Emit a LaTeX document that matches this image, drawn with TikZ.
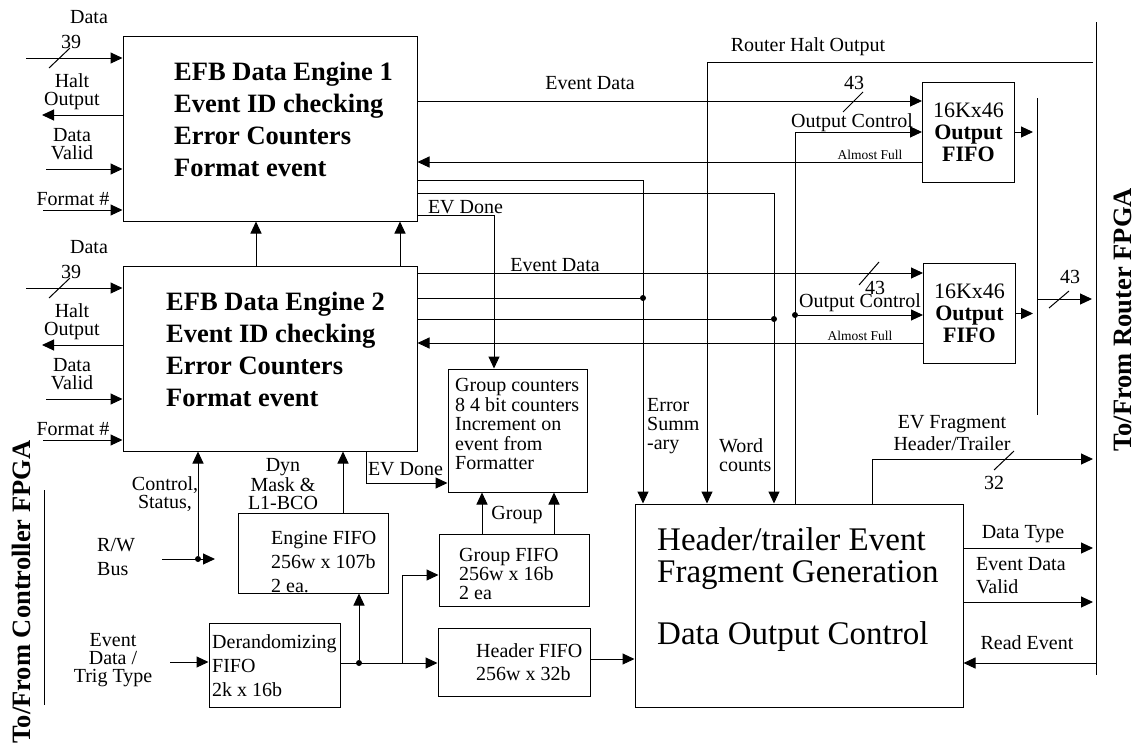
\documentclass[tikz,border=0pt]{standalone}
\usepackage{fontspec}
\setmainfont{Liberation Serif}
\usetikzlibrary{arrows.meta,calc,positioning}
\tikzset{
  wire/.style={line width=1pt},
  arr/.style={wire,-{Triangle[length=12pt,width=11pt]}},
  box/.style={draw,line width=1pt,inner sep=0pt},
  junction/.style={circle,fill,inner sep=0pt,minimum size=6pt},
  lbl/.style={inner sep=0pt,align=center,font=\fontsize{20}{18}\selectfont},
  txt/.style={inner sep=0pt,align=left,font=\fontsize{20}{24}\selectfont},
  tiny/.style={inner sep=0pt,font=\fontsize{13.5}{15}\selectfont},
  engtxt/.style={inner sep=0pt,align=left,font=\fontsize{26.5}{32}\selectfont\bfseries},
  hdrtxt/.style={inner sep=0pt,align=left,font=\fontsize{33}{32}\selectfont},
  fifotxt/.style={box,align=center,minimum width=92pt,minimum height=100pt,
    font=\fontsize{22}{22}\selectfont},
  sidetxt/.style={inner sep=0pt,rotate=90,font=\fontsize{26.5}{30}\selectfont\bfseries}
}
\begin{document}
\begin{tikzpicture}[x=1pt,y=-1pt]
    \useasboundingbox (0,0) rectangle (1137,745);
    % blocks
    \node[box,minimum width=294pt,minimum height=185pt] (eng1) at (270,128.5) {};
    \node[box,minimum width=294pt,minimum height=185pt] (eng2) at (270,358.5) {};
    \node[fifotxt] (ofifo1) at (968.5,132) {16Kx46\\\textbf{Output}\\\textbf{FIFO}};
    \node[fifotxt] (ofifo2) at (969.5,313.5) {16Kx46\\\textbf{Output}\\\textbf{FIFO}};
    \node[box,minimum width=139pt,minimum height=123pt] (gcnt) at (517.5,430.5) {};
    \node[box,minimum width=150pt,minimum height=80pt] (efifo) at (313,553) {};
    \node[box,minimum width=131pt,minimum height=84pt] (dfifo) at (274.5,665) {};
    \node[box,minimum width=150pt,minimum height=72pt] (gfifo) at (514,570) {};
    \node[box,minimum width=152pt,minimum height=68pt] (hfifo) at (514,662) {};
    \node[box,minimum width=328pt,minimum height=203pt] (hdr) at (799,605.5) {};
    % texts in the blocks
    \node[engtxt,anchor=west] (eng1txt) at (174,119) {EFB Data Engine 1\\Event ID checking\\Error Counters\\Format event};
    \node[engtxt,anchor=west] (eng2txt) at (166,349) {EFB Data Engine 2\\Event ID checking\\Error Counters\\Format event};
    \node[lbl,align=left,anchor=west,font=\fontsize{20}{19.5}\selectfont] (gcnttxt) at (455,424)
        {Group counters\\8 4 bit counters\\Increment on\\event from\\Formatter};
    \node[txt,anchor=west] (efifotxt) at (271,562) {Engine FIFO\\256w x 107b\\2 ea.};
    \node[txt,anchor=west] (dfifotxt) at (212,666) {Derandomizing\\FIFO\\2k x 16b};
    \node[lbl,align=left,anchor=west,font=\fontsize{20}{19}\selectfont] (gfifotxt) at (459,574) {Group FIFO\\256w x 16b\\2 ea};
    \node[txt,anchor=west,font=\fontsize{20}{23}\selectfont] (hfifotxt) at (476,662.5) {Header FIFO\\256w x 32b};
    \node[hdrtxt,anchor=west] (hdrtxt1) at (657,559) {Header/trailer Event\\Fragment Generation};
    \node[hdrtxt,anchor=west] (hdrtxt2) at (657,637) {Data Output Control};

    % inputs of the two engines
    \foreach \e/\dy in {eng1/0,eng2/230}{
        \node[lbl] (\e-data) at (89,17+\dy) {Data};
        \coordinate (\e-din) at (26,58+\dy);
        \draw[arr] (\e-din) -- (\e.west |- \e-din);
        \draw[wire] (49,68+\dy) -- (70,48+\dy);
        \node[lbl] (\e-w) at (71,42+\dy) {39};
        \node[lbl] (\e-halt) at (72,91.5+\dy) {Halt\\Output};
        \coordinate (\e-hout) at (42,115+\dy);
        \draw[arr] (\e.west |- \e-hout) -- (\e-hout);
        \node[lbl] (\e-valid) at (72,144+\dy) {Data\\Valid};
        \coordinate (\e-vin) at (46,169+\dy);
        \draw[arr] (\e-vin) -- (\e.west |- \e-vin);
        \node[lbl] (\e-fmt) at (73,199+\dy) {Format \#};
        \coordinate (\e-fin) at (43,210+\dy);
        \draw[arr] (\e-fin) -- (\e.west |- \e-fin);
    }
    \draw[arr] (eng2.north -| 256,0) -- (eng1.south -| 256,0);
    \draw[arr] (eng2.north -| 400,0) -- (eng1.south -| 400,0);

    % controller side
    \coordinate (lbtop) at (44,490);
    \coordinate (lbbot) at (44,705);
    \draw[wire] (lbtop) -- (lbbot);
    \node[sidetxt] (ctrlfpga) at (21,592) {To/From Controller FPGA};
    \node[junction] (rwj) at (198,559) {};
    \coordinate (rwin) at (162,559);
    \coordinate (rwend) at (215,559);
    \draw[arr] (rwin) -- (rwend);
    \draw[arr] (rwj) -- (eng2.south -| rwj);
    \node[lbl] (ctl) at (165,494) {Control,\\Status,};
    \node[txt,anchor=west] (rw) at (97,557) {R/W\\Bus};
    \node[lbl] (dyn) at (283,484) {Dyn\\Mask \&\\L1-BCO};
    \draw[arr] (efifo.north -| 343,0) -- (eng2.south -| 343,0);
    \draw[arr] (eng2.south -| 366,0) |- (gcnt.west |- 0,483);
    \node[lbl] (evd2) at (405.5,469) {EV Done};
    \draw[arr] (eng1.east |- 0,215) -| (gcnt.north -| 494,0);
    \node[lbl] (evd1) at (465.5,207) {EV Done};
    \draw[arr] (gfifo.north -| 482,0) -- (gcnt.south -| 482,0);
    \draw[arr] (gfifo.north -| 554,0) -- (gcnt.south -| 554,0);
    \node[lbl] (grp) at (517,515) {Group};

    % derandomizer fan-out
    \coordinate (evin) at (170,662);
    \draw[arr] (evin) -- (dfifo.west |- evin);
    \node[lbl] (evtxt) at (113,660) {Event\\Data /\\Trig Type};
    \node[junction] (dj1) at (359,663) {};
    \coordinate (dj2) at (402,663);
    \draw[arr] (dfifo.east |- dj1) -- (hfifo.west |- dj1);
    \draw[arr] (dj1) -- (efifo.south -| dj1);
    \draw[arr] (dj2) |- (gfifo.west |- 0,575);
    \draw[arr] (hfifo.east |- 0,659) -- (hdr.west |- 0,659);

    % engine 1 outputs
    \draw[arr] (eng1.east |- 0,101) -- (ofifo1.west |- 0,101);
    \node[lbl] (ed1) at (590,83) {Event Data};
    \draw[wire] (843,112) -- (863,92);
    \node[lbl] (w43a) at (854,83) {43};
    \draw[arr] (hdr.north -| 795,0) |- (ofifo1.west |- 0,132);
    \node[lbl] (oc1) at (852,123) {Output Control};
    \draw[arr] (ofifo1.west |- 0,162) -- (eng1.east |- 0,162);
    \node[tiny] (af1) at (870,155) {Almost Full};
    \draw[arr] (eng1.east |- 0,180) -| (hdr.north -| 643,0);
    \draw[arr] (eng1.east |- 0,193) -| (hdr.north -| 774,0);
    \coordinate (rhalt) at (1093,62);
    \draw[arr] (rhalt) -| (hdr.north -| 707,0);
    \node[lbl] (rh) at (808,47) {Router Halt Output};

    % engine 2 outputs
    \draw[arr] (eng2.east |- 0,273) -- (ofifo2.west |- 0,273);
    \node[lbl] (ed2) at (555,265) {Event Data};
    \draw[wire] (859,285) -- (879,262);
    \node[lbl] (w43b) at (875,288) {43};
    \node[junction] (esj) at (643,298) {};
    \draw[wire] (eng2.east |- esj) -- (esj);
    \node[junction] (wcj) at (774,319) {};
    \draw[wire] (eng2.east |- wcj) -- (wcj);
    \node[junction] (ocj) at (795,315) {};
    \draw[arr] (ocj) -- (ofifo2.west |- ocj);
    \node[lbl] (oc2) at (860,303) {Output Control};
    \draw[arr] (ofifo2.west |- 0,343) -- (eng2.east |- 0,343);
    \node[tiny] (af2) at (860,336) {Almost Full};
    \node[lbl,align=left,anchor=west,font=\fontsize{20}{19}\selectfont] (esum) at (647,426) {Error\\Summ\\-ary};
    \node[lbl,align=left,anchor=west,font=\fontsize{20}{19}\selectfont] (wcnt) at (719,455.5) {Word\\counts};

    % router side
    \coordinate (bar1) at (1037,98);
    \coordinate (bar2) at (1037,415);
    \draw[wire] (bar1) -- (bar2);
    \draw[arr,shorten >=4pt] (ofifo1.east) -- (ofifo1.east -| bar1);
    \draw[arr,shorten >=4pt] (ofifo2.east) -- (ofifo2.east -| bar1);
    \coordinate (rbtop) at (1096,22);
    \coordinate (rbbot) at (1096,675);
    \draw[wire] (rbtop) -- (rbbot);
    \node[sidetxt] (rtrfpga) at (1123,320) {To/From Router FPGA};
    \coordinate (busj) at (1037,299);
    \draw[arr,shorten >=4pt] (busj) -- (busj -| rbtop);
    \draw[wire] (1049,308) -- (1069,291);
    \node[lbl] (w43c) at (1070,277) {43};
    \draw[arr,shorten >=3pt] (hdr.north -| 872,0) |- (rbtop |- 0,459);
    \node[lbl,font=\fontsize{20}{22}\selectfont] (evf) at (952,433) {EV Fragment\\Header/Trailer};
    \draw[wire] (994,470) -- (1014,451);
    \node[lbl] (w32) at (994,483) {32};
    \draw[arr,shorten >=3pt] (hdr.east |- 0,548) -- (rbtop |- 0,548);
    \node[lbl] (dtype) at (1023,534) {Data Type};
    \draw[arr,shorten >=3pt] (hdr.east |- 0,602) -- (rbtop |- 0,602);
    \node[txt,anchor=west,font=\fontsize{20}{23}\selectfont] (edv) at (976,575.5) {Event Data\\Valid};
    \draw[arr] (rbtop |- 0,663) -- (hdr.east |- 0,663);
    \node[lbl] (rdev) at (1027,643) {Read Event};
\end{tikzpicture}
\end{document}
